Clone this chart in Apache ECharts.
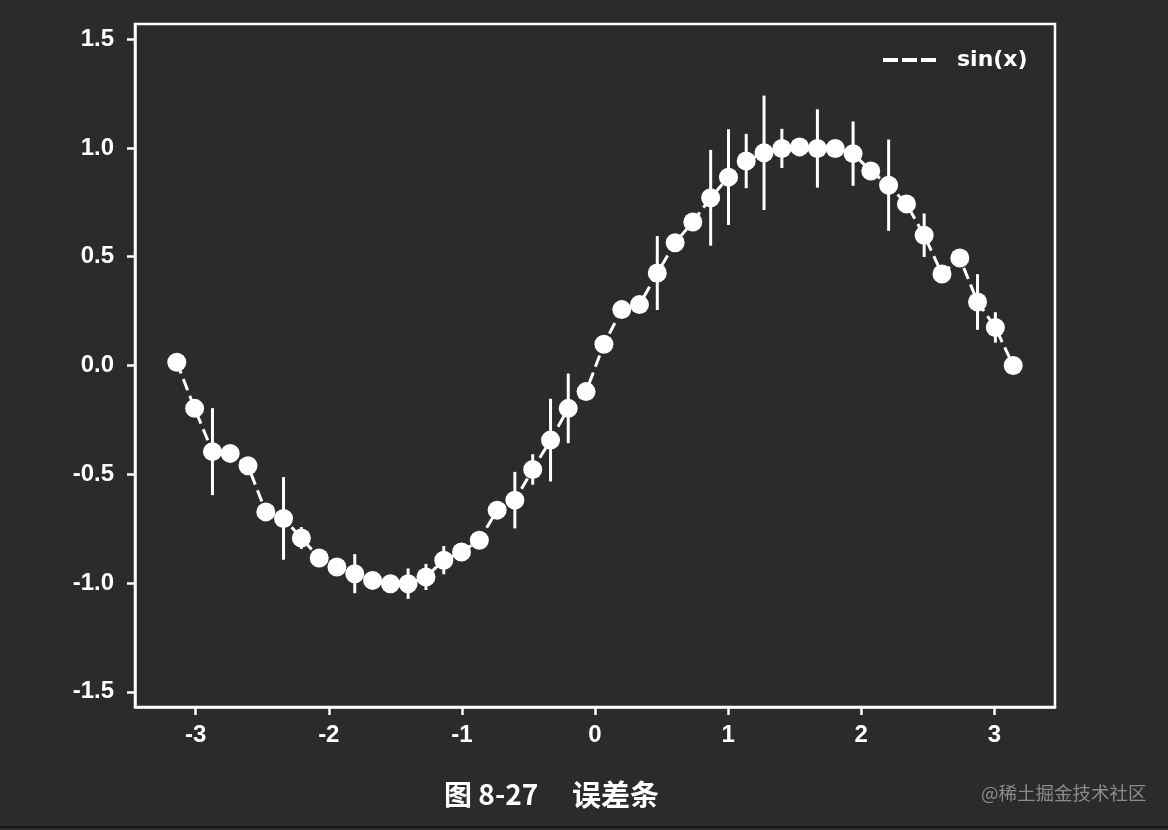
<!DOCTYPE html>
<html>
<head>
<meta charset="utf-8">
<script src="https://cdn.jsdelivr.net/npm/echarts@6/dist/echarts.min.js"></script>
<style>
html,body{margin:0;padding:0;background:#2b2b2b;}
#c{width:1168px;height:830px;}
</style>
</head>
<body>
<div id="c"></div>
<script>
// x positions (linspace from -pi to pi, 48 points)
const xVals = [-3.142,-3.008,-2.874,-2.741,-2.607,-2.473,-2.340,-2.206,-2.072,-1.939,-1.805,-1.671,
  -1.537,-1.404,-1.270,-1.136,-1.003,-0.869,-0.735,-0.602,-0.468,-0.334,-0.201,-0.067,
  0.067,0.201,0.334,0.468,0.602,0.735,0.869,1.003,1.136,1.270,1.404,1.537,
  1.671,1.805,1.939,2.072,2.206,2.340,2.473,2.607,2.741,2.874,3.008,3.142];
const yVals = [0.015,-0.197,-0.396,-0.404,-0.461,-0.673,-0.703,-0.793,-0.885,-0.926,-0.957,-0.988,
  -1.003,-1.003,-0.972,-0.895,-0.857,-0.803,-0.665,-0.619,-0.478,-0.343,-0.197,-0.12,
  0.098,0.257,0.28,0.425,0.564,0.66,0.771,0.866,0.94,0.978,0.998,1.005,
  0.998,0.998,0.974,0.894,0.829,0.743,0.599,0.421,0.494,0.292,0.175,0.0];
const yErr = [0,0,0.20,0,0.03,0,0.19,0.05,0,0,0.09,0,
  0,0.07,0.06,0.065,0.02,0.03,0,0.13,0.07,0.19,0.16,0,
  0,0,0,0.17,0,0,0.22,0.22,0.125,0.263,0.09,0,
  0.18,0,0.148,0.03,0.21,0,0.1,0.03,0,0.128,0.07,0];
const xTicks = [-3,-2,-1,0,1,2,3];
const yTicks = [-1.5,-1.0,-0.5,0.0,0.5,1.0,1.5];
const seriesName = 'sin(x)';
const captionNo = '图 8-27';
const captionText = '误差条';
const watermark = '@稀土掘金技术社区';

const pts = xVals.map((x,i)=>[x,yVals[i]]);
const errData = xVals.map((x,i)=>[x,yVals[i],yErr[i]]);

const chart = echarts.init(document.getElementById('c'), null, {renderer:'canvas'});
const labelStyle = {color:'#ffffff', fontSize:24, fontWeight:'bold', fontFamily:'Liberation Sans'};

chart.setOption({
  backgroundColor:'#2b2b2b',
  animation:false,
  grid:{left:135,right:113,top:24,bottom:123,show:true,borderColor:'#ffffff',borderWidth:2.5,containLabel:false},
  xAxis:{type:'value',min:-3.456,max:3.456,
    axisLine:{show:true,onZero:false,lineStyle:{color:'#ffffff',width:2.5}},
    axisTick:{show:true,length:8,lineStyle:{color:'#ffffff',width:2.5},customValues:xTicks},
    axisLabel:Object.assign({margin:16,customValues:xTicks,formatter:v=>String(v)},labelStyle),
    splitLine:{show:false}},
  yAxis:{type:'value',min:-1.57,max:1.57,
    axisLine:{show:true,onZero:false,lineStyle:{color:'#ffffff',width:2.5}},
    axisTick:{show:true,length:8,lineStyle:{color:'#ffffff',width:2.5},customValues:yTicks},
    axisLabel:Object.assign({margin:21,customValues:yTicks,formatter:v=>Number(v).toFixed(1)},labelStyle),
    splitLine:{show:false}},
  legend:{show:true,left:878,top:44,itemWidth:53,itemHeight:4,
    data:[{name:seriesName,icon:'path://M0 0h15v4h-15z M19 0h15v4h-15z M38 0h15v4h-15z'}],
    textStyle:{color:'#ffffff',fontSize:22,fontWeight:'bold',fontFamily:'DejaVu Sans',padding:[0,0,0,16]}},
  series:[
    {name:seriesName,type:'line',data:pts,symbol:'none',z:2,
     lineStyle:{color:'#ffffff',width:3,type:[12,6]},itemStyle:{color:'#ffffff'}},
    {name:'err',type:'custom',data:errData,z:3,
     renderItem:function(params,api){
       const x=api.value(0), y=api.value(1), e=api.value(2);
       if(!e) return null;
       const p1=api.coord([x,y-e]), p2=api.coord([x,y+e]);
       return {type:'line',shape:{x1:p1[0],y1:p1[1],x2:p2[0],y2:p2[1]},
               style:{stroke:'#ffffff',lineWidth:3}};
     }},
    {name:'pts',type:'scatter',data:pts,symbol:'circle',symbolSize:19,z:4,
     itemStyle:{color:'#ffffff',opacity:1}}
  ],
  graphic:[
    {type:'text',left:444,top:780,style:{text:captionNo,fill:'#ffffff',font:'bold 28px "Noto Sans CJK SC"'}},
    {type:'text',left:572,top:780,style:{text:captionText,fill:'#ffffff',font:'bold 29px "Noto Sans CJK SC"'}},
    {type:'text',left:981,top:784,style:{text:watermark,fill:'#8c8c8c',font:'18.5px "Noto Sans CJK SC"'}},
    {type:'rect',left:0,top:826,shape:{width:1168,height:2},style:{fill:'#151515'}}
  ]
});
</script>
</body>
</html>
